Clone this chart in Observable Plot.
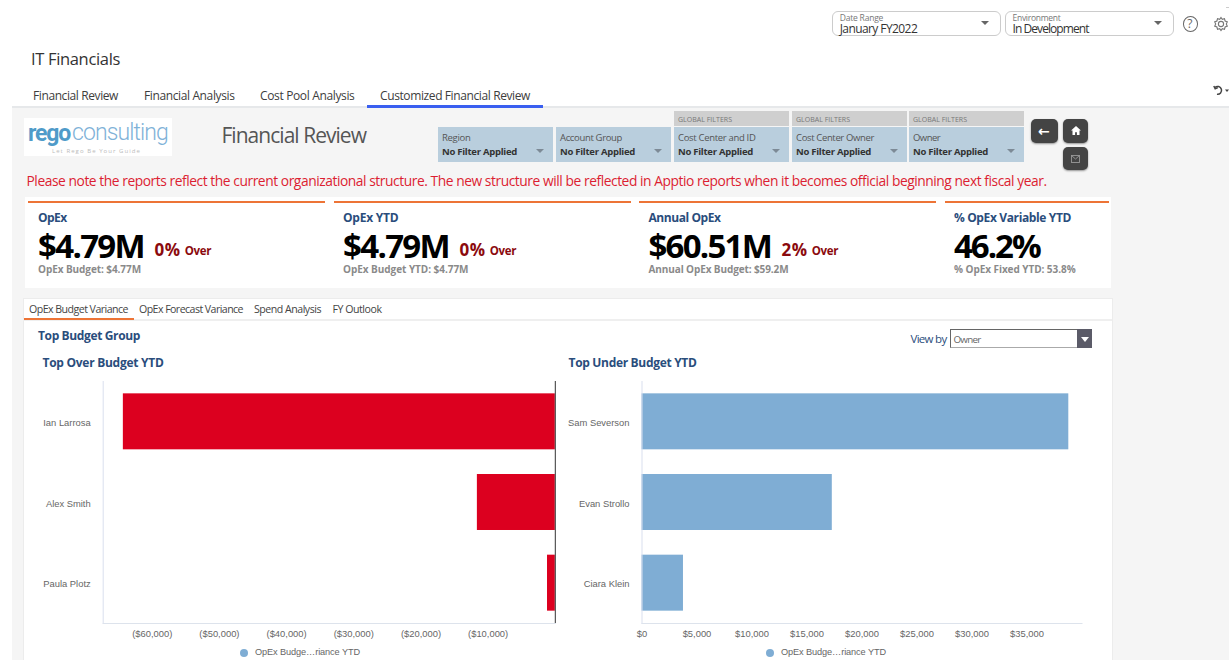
<!DOCTYPE html>
<html><head><meta charset="utf-8">
<script src="https://cdn.jsdelivr.net/npm/d3@7"></script>
<script src="https://cdn.jsdelivr.net/npm/@observablehq/plot@0.6"></script>
<style>
html,body{margin:0;padding:0;background:#fff;overflow:hidden}
#page{position:relative;width:1229px;height:660px;overflow:hidden;font-family:"Open Sans",sans-serif;color:#333}
.b{position:absolute;box-sizing:border-box}
.t{position:absolute;white-space:nowrap;line-height:1;transform:translateY(-50%)}
.tri{position:absolute;width:0;height:0;border-style:solid;border-color:transparent}
svg.plot{position:absolute;overflow:visible}
</style></head><body><div id="page"></div>
<script>
// ---- chart data
const overNames = ["Ian Larrosa", "Alex Smith", "Paula Plotz"];
const overValues = [-64300, -11600, -1160];
const overTicks = [-60000, -50000, -40000, -30000, -20000, -10000];
const underNames = ["Sam Severson", "Evan Strollo", "Ciara Klein"];
const underValues = [38800, 17300, 3770];
const underTicks = [0, 5000, 10000, 15000, 20000, 25000, 30000, 35000];
// ---- dashboard text
const navTabs = ["Financial Review", "Financial Analysis", "Cost Pool Analysis", "Customized Financial Review"];
const subTabs = ["OpEx Budget Variance", "OpEx Forecast Variance", "Spend Analysis", "FY Outlook"];
const filters = ["Region", "Account Group", "Cost Center and ID", "Cost Center Owner", "Owner"];
const kpiTitles = ["OpEx", "OpEx YTD", "Annual OpEx", "% OpEx Variable YTD"];
const kpiValues = ["$4.79M", "$4.79M", "$60.51M", "46.2%"];
const kpiDeltas = ["0%", "0%", "2%", ""];
const kpiNotes = ["OpEx Budget: $4.77M", "OpEx Budget YTD: $4.77M", "Annual OpEx Budget: $59.2M", "% OpEx Fixed YTD: 53.8%"];
const legendLabel = "OpEx Budge\u2026riance YTD";
const notice = "Please note the reports reflect the current organizational structure. The new structure will be reflected in Apptio reports when it becomes official beginning next fiscal year.";

const page = document.getElementById("page");
function box(x,y,w,h,css=""){const d=document.createElement("div");d.className="b";d.style.cssText=`left:${x}px;top:${y}px;width:${w}px;height:${h}px;${css}`;page.appendChild(d);return d}
function text(s,x,y,css="",fit=0){
  const d=document.createElement("div");d.className="t";d.textContent=s;d.style.cssText=`left:${x}px;top:${y}px;${css}`;page.appendChild(d);
  if(fit){const w=d.getBoundingClientRect().width;d.style.letterSpacing=((fit-w)/s.length).toFixed(3)+"px";}
  return d}
function tri(x,y,w,h,c){const d=document.createElement("div");d.className="tri";d.style.cssText=`left:${x}px;top:${y}px;border-width:${h}px ${w/2}px 0 ${w/2}px;border-top-color:${c}`;page.appendChild(d)}

// page backgrounds
box(12,107,1217,553,"background:#f5f5f5");
box(12,105.5,1217,2.5,"background:#e6e8ea");
box(1226,7,3,1,"background:#ccc");

// header
text("IT Financials",31,58.5,"font-size:16.5px;color:#333",89);
[[33,85],[144,90.5],[260,94.5],[380,150]].forEach(([x,w],i)=>text(navTabs[i],x,96,"font-size:12px;color:#3d3d3d",w));
box(367,105,176,2.5,"background:#3a5ff0");

// date + env selectors
[[832,168.5,"Date Range","January FY2022",839.7,43.5,77.5],[1005,168.5,"Environment","In Development",1012.5,48,76]].forEach(([x,w,a,b,tx,wa,wb])=>{
  box(x,11,w,25,"border:1px solid #ccc;border-radius:6px;background:#fff");
  text(a,tx,17.5,"font-size:8.5px;color:#777",wa);
  text(b,tx,28.5,"font-size:12px;color:#333",wb);
  tri(x+149,21,8,4.5,"#666");
});
// help icon
text("?",1187.2,24,"font-size:12px;color:#666");
box(1183,16,15,15.5,"border:1.2px solid #666;border-radius:50%");
// gear + undo icons
page.insertAdjacentHTML("beforeend",`<svg style="position:absolute;left:1213px;top:16px" width="16" height="16" viewBox="0 0 16 16" fill="none" stroke="#777" stroke-width="1.1"><circle cx="8" cy="8" r="2.6"/><path d="M8 1.5l1.3 1.9 2.2-.6.6 2.2 2.2.9-1 2.1 1 2.1-2.2.9-.6 2.2-2.2-.6L8 14.5l-1.3-1.9-2.2.6-.6-2.2-2.2-.9 1-2.1-1-2.1 2.2-.9.6-2.2 2.2.6z"/></svg>
<svg style="position:absolute;left:1213px;top:85px" width="16" height="11" viewBox="0 0 16 11" fill="none" stroke="#444" stroke-width="1.5"><path d="M2 2.5A3.9 3.9 0 1 1 4 9.2"/><path d="M.8 1l1.4 2.8 2.6-1.2"/><path d="M12 4.5h4l-2 2.6z" fill="#444" stroke="none"/></svg>`);

// logo
box(24,118,148,38,"background:#fff");
text("rego",28,132.5,"font-family:Roboto;font-size:23px;font-weight:700;color:#4f9bc9",42);
text("consulting",72,132,"font-family:Roboto;font-size:23px;font-weight:300;color:#7fb2d8",96);
text("Let Rego Be Your Guide",52,151,"font-size:6px;color:#bbb",89);
text("Financial Review",221.5,135,"font-size:21px;color:#555",144.5);

// filters
const fx=[438,556,674,792,909];
const labelW=[28.5,62,77.5,78,27];
filters.forEach((f,i)=>{
  if(i>=2){box(fx[i],111,115,15,"background:#cfcfcf");text("GLOBAL FILTERS",fx[i]+4,119,"font-size:7px;color:#777",54);}
  box(fx[i],127,115,35,"background:#b9cedd");
  text(f,fx[i]+4,137.5,"font-size:9.5px;color:#555",labelW[i]);
  text("No Filter Applied",fx[i]+4,152,"font-size:9.5px;font-weight:700;color:#333",75);
  tri(fx[i]+98.3,149,9.4,4.8,"#7d8a96");
});
// buttons
const btn="background:#444;border-radius:5px;box-shadow:0 1px 2px rgba(0,0,0,.4)";
box(1031,119,27,24,btn);box(1063,119,25,24,btn);box(1063,147,25,23,btn);
text("\u2190",1038,130.5,"font-size:14px;font-weight:700;color:#fff;font-family:'DejaVu Sans'");
page.insertAdjacentHTML("beforeend",`<svg style="position:absolute;left:1070.5px;top:126px" width="10" height="9" viewBox="0 0 11 10" fill="#fff"><path d="M5.5 0L11 5H9.4v5H6.5V7h-2v3H1.6V5H0z"/></svg>
<svg style="position:absolute;left:1071px;top:155px" width="9" height="8" viewBox="0 0 9 8" fill="none" stroke="#999" stroke-width=".9"><rect x=".5" y=".5" width="8" height="7"/><path d="M.5 .5l4 3.5 4-3.5"/></svg>`);

// notice
text(notice,26.5,181,"font-size:13.8px;color:#dc1e32",1020);

// KPI cards
box(25,197,1086,91,"background:#fff");
[[28,297],[334,297],[639,297],[945,164]].forEach(([x,w])=>box(x,201,w,2,"background:#ed7436"));
const kx=[38,343,648.5,954];
const titleW=[28.6,55.5,72,117], valueW=[106,106,122.5,85.6], noteW=[103,125.5,140,121.6];
kpiTitles.forEach((k,i)=>{
  text(k,kx[i],217.5,"font-size:12px;font-weight:700;color:#2a4d7c",titleW[i]);
  text(kpiValues[i],kx[i],245,"font-size:33px;font-weight:700;color:#000",valueW[i]);
  if(kpiDeltas[i]){
    const sx=kx[i]+valueW[i]+10.5;
    text(kpiDeltas[i],sx,249,"font-weight:700;color:#8b0a0e;font-size:17px",26);
    text("Over",sx+30.3,250.5,"font-weight:700;color:#8b0a0e;font-size:11.5px",26.3);
  }
  text(kpiNotes[i],kx[i],268.5,"font-size:10px;font-weight:700;color:#8a8a8a",noteW[i]);
});

// lower panel
box(22.5,297.5,1090,370,"background:#fff;border:1px solid #ececec");
box(23,319,1089,1.5,"background:#efefef");
[[29,99],[139,104],[254,67],[332.5,49]].forEach(([x,w],i)=>text(subTabs[i],x,308.5,"font-size:10.6px;color:#444",w));
box(24,318,110,1.5,"background:#ed7436");
text("Top Budget Group",38,336,"font-size:12px;font-weight:700;color:#2a4d7c",102);
text("Top Over Budget YTD",42.5,363,"font-size:12px;font-weight:700;color:#2a4d7c",121);
text("Top Under Budget YTD",568.5,363,"font-size:12px;font-weight:700;color:#2a4d7c",128);
text("View by",910.5,339,"font-size:11.5px;color:#2a4d7c",36);
box(950,329,142,19,"background:#fff;border:1px solid #666;border-bottom-color:#aaa");
text("Owner",953.5,340,"font-size:9.8px;color:#666",27);
box(1077,329,15,19,"background:#5b5b68");
tri(1081,336.5,8,5,"#fff");

// charts
const usd=v=>v<0?`($${d3.format(",")(-v)})`:`$${d3.format(",")(v)}`;
function chart({names,values,ticks,domain,fill,left,width,marginLeft,marginRight,zeroRule}){
  const rows=names.map((name,i)=>({name,value:values[i]}));
  const p=Plot.plot({
    width,height:270,marginTop:6,marginBottom:22,marginLeft,marginRight,
    style:{background:"transparent",fontFamily:"'Liberation Sans',Arial,sans-serif",fontSize:"9.4px",color:"#666"},
    x:{domain,axis:null},
    y:{domain:names,axis:null,round:false,paddingInner:0.306,paddingOuter:0.153,align:0.5},
    marks:[
      Plot.barX(rows,{x:"value",y:"name",fill}),
      Plot.frame({anchor:"left",stroke:"#d9dfee"}),
      Plot.frame({anchor:"bottom",stroke:"#dde3ec"}),
      zeroRule?Plot.ruleX([0],{stroke:"#333"}):null,
      Plot.axisY(names,{anchor:"left",tickSize:0,tickPadding:12.5,dy:1,label:null}),
      Plot.axisX(ticks,{anchor:"bottom",tickSize:0,tickPadding:7,tickFormat:usd,label:null})
    ]
  });
  p.style.position="absolute";p.style.left=left+"px";p.style.top="375px";
  page.appendChild(p);
}
chart({names:overNames,values:overValues,ticks:overTicks,domain:[-67300,0],fill:"#dc001f",left:30,width:530,marginLeft:72.7,marginRight:5.2,zeroRule:true});
chart({names:underNames,values:underValues,ticks:underTicks,domain:[0,40000],fill:"#7fadd4",left:545,width:550,marginLeft:96.5,marginRight:13.5,zeroRule:false});

// legends
[[243.5,255],[769.5,781]].forEach(([dx,tx])=>{
  box(dx-4,649,8,8,"background:#7fadd4;border-radius:50%");
  text(legendLabel,tx,653,"font-family:'Liberation Sans';font-size:9.2px;color:#666",105);
});
</script></body></html>
